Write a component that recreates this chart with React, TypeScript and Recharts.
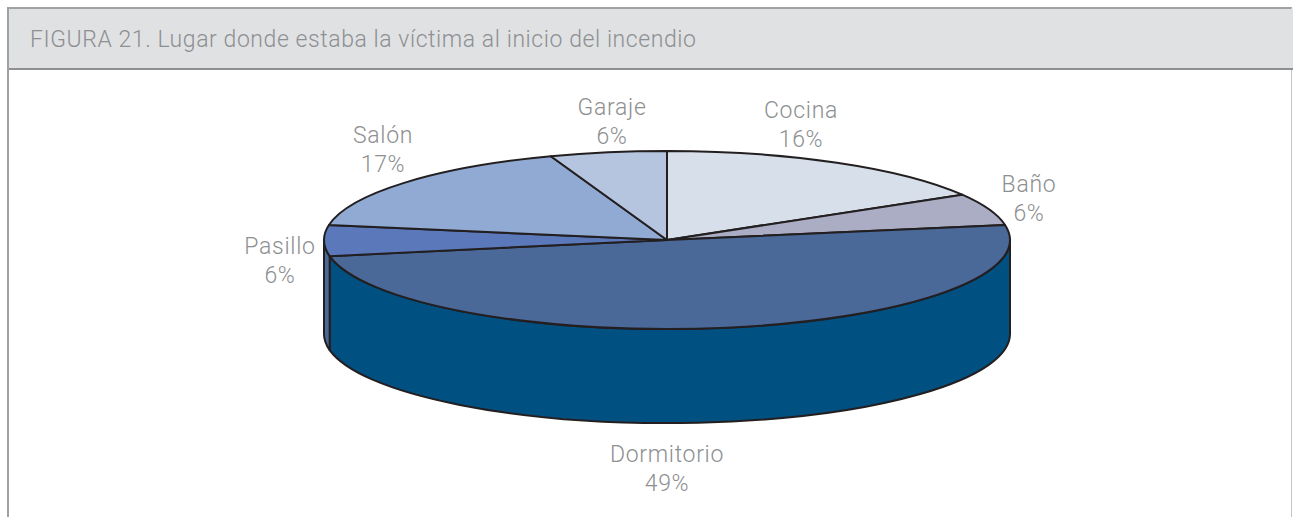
import { PieChart, Pie, Cell } from 'recharts';

const lugares = ['Cocina', 'Baño', 'Dormitorio', 'Pasillo', 'Salón', 'Garaje'];
// slice sizes as measured on the drawing, the printed labels are rounded differently
const valores = [16.5, 5.8, 49.8, 5.6, 16.8, 5.5];
const etiquetas = ['16%', '6%', '49%', '6%', '17%', '6%'];
const coloresTapa = ['#d7dfea', '#aaadc4', '#4a6898', '#5a78ba', '#90aad3', '#b5c4df'];
const coloresLado = ['#b0b8c8', '#8a8da4', '#005082', '#4a6898', '#7088b0', '#90a0c0'];

const data = lugares.map((nombre, i) => ({ nombre, valor: valores[i] }));

// label centres relative to the pie centre
const posEtiquetas = [
  { dx: 134, dy: -122 },
  { dx: 362, dy: -48 },
  { dx: 0, dy: 222 },
  { dx: -387, dy: 14 },
  { dx: -284, dy: -97 },
  { dx: -55, dy: -125 },
];

const TITULO = 'FIGURA 21. Lugar donde estaba la víctima al inicio del incendio';
const TEXTO = '#8d8f91';
const LINEA = '#231f20';
const INCLINACION = 89 / 343;
const GROSOR = 94;

const Porcion = (props: any) => {
  const { cx, cy, outerRadius, startAngle, endAngle, fill, index } = props;
  const rx = outerRadius;
  const ry = outerRadius * INCLINACION;
  const punto = (a: number, dy = 0) => {
    const r = (a * Math.PI) / 180;
    return `${cx + rx * Math.cos(r)} ${cy - ry * Math.sin(r) + dy}`;
  };
  const tapa = `M ${cx} ${cy} L ${punto(startAngle)} A ${rx} ${ry} 0 ${startAngle - endAngle > 180 ? 1 : 0} 1 ${punto(endAngle)} Z`;

  // only the front half of the disc shows a side wall
  const desde = Math.min(startAngle, 0);
  const hasta = Math.max(endAngle, -180);
  let lado = null;
  if (desde > hasta) {
    const d = `M ${punto(desde)} A ${rx} ${ry} 0 0 1 ${punto(hasta)} L ${punto(hasta, GROSOR)} A ${rx} ${ry} 0 0 0 ${punto(desde, GROSOR)} Z`;
    lado = <path d={d} fill={coloresLado[index]} stroke={LINEA} strokeWidth={2} strokeLinejoin="round" />;
  }
  return (
    <g>
      {lado}
      <path d={tapa} fill={fill} stroke={LINEA} strokeWidth={2} strokeLinejoin="round" />
    </g>
  );
};

const Etiqueta = ({ cx, cy, index }: any) => {
  const pos = posEtiquetas[index];
  const x = cx + pos.dx;
  const y = cy + pos.dy;
  return (
    <text x={x} y={y} textAnchor="middle" fill={TEXTO} fontSize={23} fontWeight={300} letterSpacing={0.7} fontFamily="Roboto">
      <tspan x={x} dy={0}>{lugares[index]}</tspan>
      <tspan x={x} dy={29}>{etiquetas[index]}</tspan>
    </text>
  );
};

export default function App() {
  return (
    <div style={{ position: 'absolute', left: 0, top: 0, width: 1293, height: 517, overflow: 'hidden', background: '#fff' }}>
      <div
        style={{
          position: 'absolute', left: 7, top: 7, width: 1285, height: 510, boxSizing: 'border-box',
          borderTop: '2px solid #a0a1a3', borderLeft: '2px solid #a0a1a3', borderRight: '1px solid #c4c5c7',
        }}
      />
      <div
        style={{
          position: 'absolute', left: 9, top: 9, width: 1283, height: 59, background: '#e0e1e3',
          borderBottom: '2px solid #8e8f91', color: TEXTO, fontFamily: 'Roboto', fontWeight: 300, fontSize: 23,
          letterSpacing: 0.57, lineHeight: '62px', paddingLeft: 21, boxSizing: 'content-box', whiteSpace: 'nowrap',
          overflow: 'hidden',
        }}
      >
        {TITULO}
      </div>
      <div style={{ position: 'absolute', left: 0, top: 0 }}>
        <PieChart width={1293} height={517} margin={{ top: 0, right: 0, bottom: 0, left: 0 }}>
          <Pie
            data={data}
            dataKey="valor"
            nameKey="nombre"
            cx={667}
            cy={240}
            outerRadius={343}
            startAngle={90}
            endAngle={-270}
            stroke="none"
            shape={Porcion}
            label={Etiqueta}
            labelLine={false}
            isAnimationActive={false}
          >
            {data.map((d, i) => (
              <Cell key={d.nombre} fill={coloresTapa[i]} />
            ))}
          </Pie>
        </PieChart>
      </div>
    </div>
  );
}
